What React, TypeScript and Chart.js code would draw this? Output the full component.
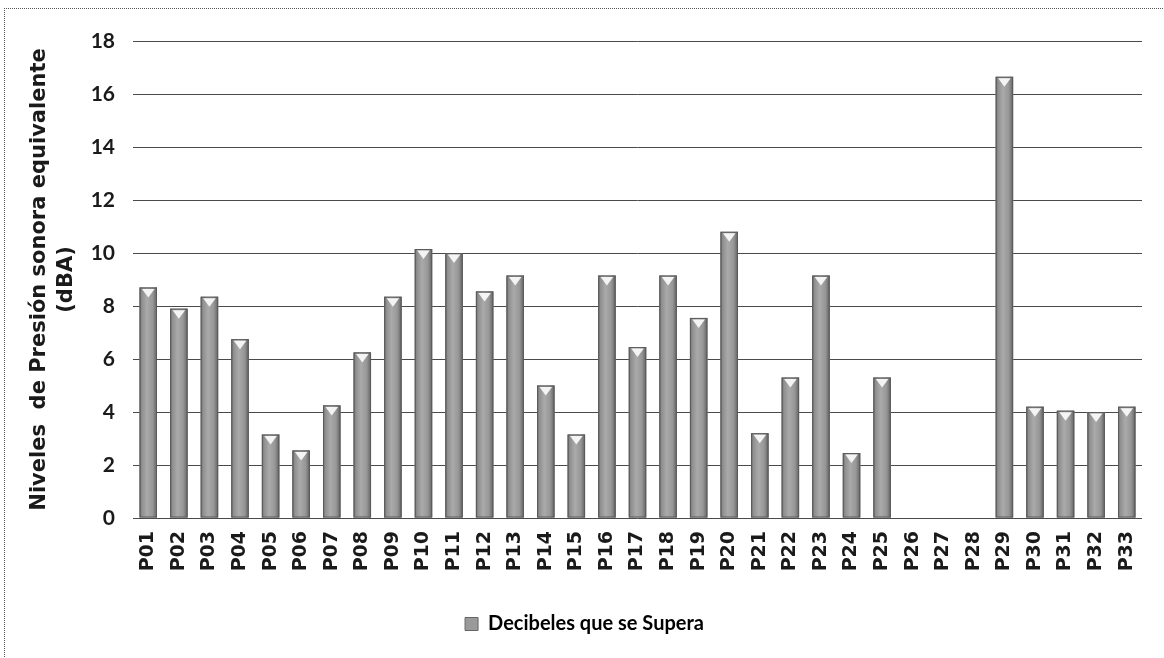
import React, { useEffect, useRef } from 'react';
import { Chart, registerables } from 'chart.js';

Chart.register(...registerables);

const categories = [
  'P01', 'P02', 'P03', 'P04', 'P05', 'P06', 'P07', 'P08', 'P09', 'P10', 'P11',
  'P12', 'P13', 'P14', 'P15', 'P16', 'P17', 'P18', 'P19', 'P20', 'P21', 'P22',
  'P23', 'P24', 'P25', 'P26', 'P27', 'P28', 'P29', 'P30', 'P31', 'P32', 'P33',
];

const decibeles: (number | null)[] = [
  8.7, 7.9, 8.35, 6.75, 3.15, 2.55, 4.25, 6.25, 8.35, 10.15, 10.0,
  8.55, 9.15, 5.0, 3.15, 9.15, 6.45, 9.15, 7.55, 10.8, 3.2, 5.3,
  9.15, 2.45, 5.3, null, null, null, 16.65, 4.2, 4.05, 4.0, 4.2,
];

const yMin = 0;
const yMax = 18;
const yStep = 2;

const seriesLabel = 'Decibeles que se Supera';
const yAxisTitle = ['Niveles  de Presión sonora equivalente', '(dBA)'];

const barShading = {
  id: 'barShading',
  afterDatasetsDraw(chart: any) {
    const ctx = chart.ctx;
    const meta = chart.getDatasetMeta(0);
    meta.data.forEach((bar: any, i: number) => {
      const v = decibeles[i];
      if (v === null || v === undefined || v === 0) return;
      const { x, y, base, width } = bar.getProps(['x', 'y', 'base', 'width'], true);
      const left = x - width / 2;
      const h = base - y;
      ctx.save();
      const g = ctx.createLinearGradient(left, 0, left + width, 0);
      g.addColorStop(0, '#666666');
      g.addColorStop(0.12, '#8e8e8e');
      g.addColorStop(0.42, '#aaaaaa');
      g.addColorStop(0.75, '#979797');
      g.addColorStop(1, '#626262');
      ctx.fillStyle = g;
      ctx.fillRect(left, y, width, h);
      ctx.strokeStyle = '#5a5a5a';
      ctx.lineWidth = 1;
      ctx.strokeRect(left + 0.5, y + 0.5, width - 1, h - 1);
      // white cap triangle
      ctx.beginPath();
      ctx.moveTo(x - width * 0.36, y + 1.5);
      ctx.lineTo(x + width * 0.36, y + 1.5);
      ctx.lineTo(x, y + 10);
      ctx.closePath();
      ctx.fillStyle = '#f4f4f4';
      ctx.fill();
      ctx.restore();
    });
  },
};

export default function App() {
  const canvasRef = useRef<HTMLCanvasElement | null>(null);

  useEffect(() => {
    const canvas = canvasRef.current;
    if (!canvas) return;
    const chart = new Chart(canvas, {
      type: 'bar',
      data: {
        labels: categories,
        datasets: [
          {
            label: seriesLabel,
            data: decibeles,
            backgroundColor: '#9a9a9a',
            borderWidth: 0,
            barPercentage: 0.57,
            categoryPercentage: 1,
          },
        ],
      },
      options: {
        responsive: false,
        maintainAspectRatio: false,
        animation: false,
        devicePixelRatio: 1,
        layout: { padding: { left: 27, top: 41, right: 22, bottom: 14 } },
        plugins: {
          tooltip: { enabled: false },
          legend: {
            display: true,
            position: 'bottom',
            labels: {
              color: '#1a1a1a',
              font: { family: 'Lato', size: 20, weight: 'bold' },
              boxWidth: 13,
              boxHeight: 13,
              padding: 10,
              generateLabels: () => [
                {
                  text: seriesLabel,
                  fillStyle: '#9a9a9a',
                  strokeStyle: '#666666',
                  lineWidth: 1,
                  hidden: false,
                  datasetIndex: 0,
                },
              ],
            },
          },
        },
        scales: {
          x: {
            grid: { display: false, drawTicks: false },
            border: { display: false },
            ticks: {
              autoSkip: false,
              minRotation: 90,
              maxRotation: 90,
              padding: 13,
              color: '#1a1a1a',
              font: { family: 'DejaVu Sans', size: 19, weight: 'bold' },
            },
            afterFit: (scale: any) => {
              scale.height = 86;
            },
          },
          y: {
            min: yMin,
            max: yMax,
            grid: { color: '#4a4a4a', lineWidth: 1, drawTicks: false },
            border: { display: false },
            ticks: {
              stepSize: yStep,
              padding: 18,
              color: '#1a1a1a',
              font: { family: 'Lato', size: 21, weight: 'bold' },
            },
            title: {
              display: true,
              text: yAxisTitle,
              color: '#1a1a1a',
              padding: { top: 0, bottom: 0 },
              font: { family: 'DejaVu Sans', size: 21, weight: 'bold', lineHeight: 1.24 },
            },
            afterFit: (scale: any) => {
              scale.width = 106;
            },
          },
        },
      },
      plugins: [barShading],
    });
    return () => chart.destroy();
  }, []);

  return (
    <div
      style={{
        position: 'fixed',
        left: 0,
        top: 0,
        width: 1164,
        height: 658,
        overflow: 'hidden',
        background: '#ffffff',
      }}
    >
      <div
        style={{
          position: 'absolute',
          left: 4,
          top: 8,
          width: 1400,
          height: 900,
          borderTop: '1px dotted #555',
          borderLeft: '1px dotted #555',
        }}
      />
      <canvas
        ref={canvasRef}
        width={1164}
        height={658}
        style={{ position: 'absolute', left: 0, top: 0, width: 1164, height: 658 }}
      />
    </div>
  );
}
